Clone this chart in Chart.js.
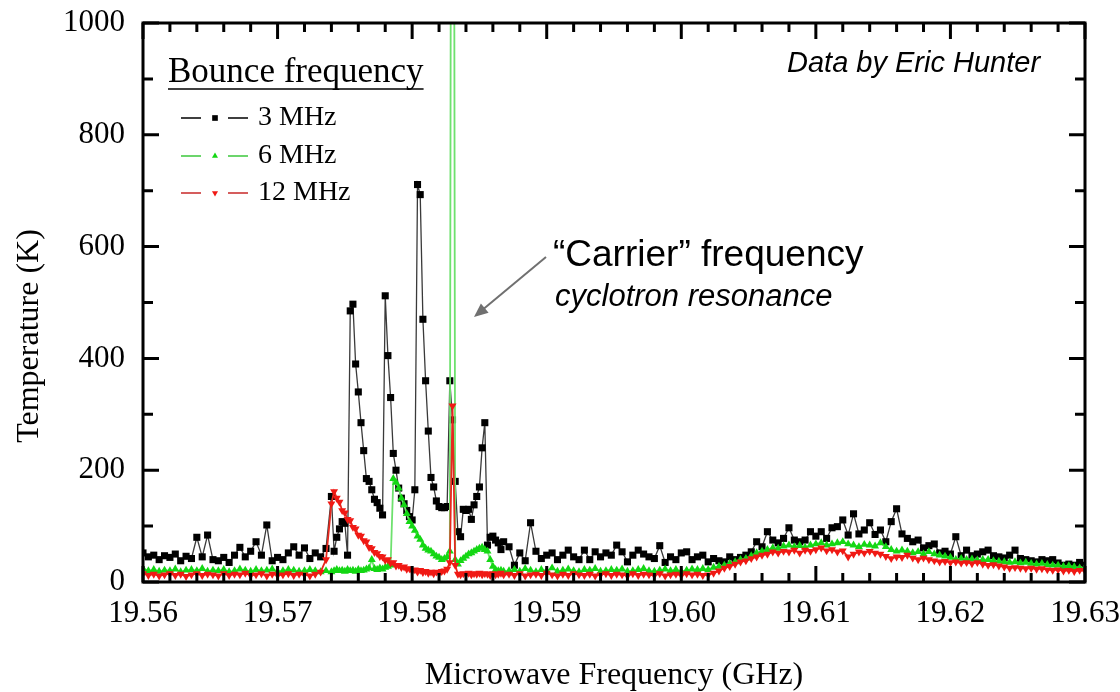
<!DOCTYPE html>
<html>
<head>
<meta charset="utf-8">
<title>Temperature vs microwave frequency</title>
<script src="https://cdn.jsdelivr.net/npm/chart.js@4.4.1/dist/chart.umd.min.js"></script>
<style>
  html, body { margin: 0; padding: 0; background: #fff; }
  #chart { display: block; }
</style>
</head>
<body>
<canvas id="chart" width="1120" height="692"></canvas>
<script>
// Microwave frequency (GHz) of each sample, finer steps across the resonance region
const freq = [
  19.5600, 19.5604, 19.5608, 19.5612, 19.5616, 19.5620, 19.5624, 19.5628, 19.5632, 19.5636,
  19.5640, 19.5644, 19.5648, 19.5652, 19.5656, 19.5660, 19.5664, 19.5668, 19.5672, 19.5676,
  19.5680, 19.5684, 19.5688, 19.5692, 19.5696, 19.5700, 19.5704, 19.5708, 19.5712, 19.5716,
  19.5720, 19.5724, 19.5728, 19.5732, 19.5736,
  19.5740, 19.5742, 19.5744, 19.5746, 19.5748, 19.5750, 19.5752, 19.5754, 19.5756, 19.5758,
  19.5760, 19.5762, 19.5764, 19.5766, 19.5768, 19.5770, 19.5772, 19.5774, 19.5776, 19.5778,
  19.5780, 19.5782, 19.5784, 19.5786, 19.5788, 19.5790, 19.5792, 19.5794, 19.5796, 19.5798,
  19.5800, 19.5802, 19.5804, 19.5806, 19.5808, 19.5810, 19.5812, 19.5814, 19.5816, 19.5818,
  19.5820, 19.5822, 19.5824, 19.5826, 19.5828, 19.5830, 19.5832, 19.5834, 19.5836, 19.5838,
  19.5840, 19.5842, 19.5844, 19.5846, 19.5848, 19.5850, 19.5852, 19.5854, 19.5856, 19.5858,
  19.5860, 19.5862, 19.5864, 19.5866, 19.5868,
  19.5872, 19.5876, 19.5880, 19.5884, 19.5888, 19.5892, 19.5896, 19.5900, 19.5904, 19.5908,
  19.5912, 19.5916, 19.5920, 19.5924, 19.5928, 19.5932, 19.5936, 19.5940, 19.5944, 19.5948,
  19.5952, 19.5956, 19.5960, 19.5964, 19.5968, 19.5972, 19.5976, 19.5980, 19.5984, 19.5988,
  19.5992, 19.5996, 19.6000, 19.6004, 19.6008, 19.6012, 19.6016, 19.6020, 19.6024, 19.6028,
  19.6032, 19.6036, 19.6040, 19.6044, 19.6048, 19.6052, 19.6056, 19.6060, 19.6064, 19.6068,
  19.6072, 19.6076, 19.6080, 19.6084, 19.6088, 19.6092, 19.6096, 19.6100, 19.6104, 19.6108,
  19.6112, 19.6116, 19.6120, 19.6124, 19.6128, 19.6132, 19.6136, 19.6140, 19.6144, 19.6148,
  19.6152, 19.6156, 19.6160, 19.6164, 19.6168, 19.6172, 19.6176, 19.6180, 19.6184, 19.6188,
  19.6192, 19.6196, 19.6200, 19.6204, 19.6208, 19.6212, 19.6216, 19.6220, 19.6224, 19.6228,
  19.6232, 19.6236, 19.6240, 19.6244, 19.6248, 19.6252, 19.6256, 19.6260, 19.6264, 19.6268,
  19.6272, 19.6276, 19.6280, 19.6284, 19.6288, 19.6292, 19.6296, 19.6300
];

// Temperature (K), 3 MHz bounce frequency
const temp3MHz = [
  52, 45, 48, 40, 47, 44, 50, 38, 46, 42,
  80, 45, 84, 40, 38, 44, 35, 48, 62, 45,
  55, 72, 48, 102, 38, 44, 40, 52, 63, 48,
  61, 42, 52, 45, 60,
  153, 55, 80, 95, 108, 105, 48, 485, 497, 390,
  340, 285, 235, 185, 180, 165, 148, 142, 132, 120,
  512, 405, 330, 230, 200, 168, 150, 140, 128, 117,
  111, 165, 711, 693, 470, 360, 270, 187, 170, 145,
  135, 133, 133, 135, 360, 290, 180, 90, 81, 130,
  128, 130, 112, 138, 153, 170, 240, 285, 66, 80,
  82, 75, 70, 58, 72,
  63, 30, 52, 38, 106, 55, 42, 48, 52, 40,
  48, 57, 45, 40, 57, 40, 54, 45, 52, 48,
  66, 54, 36, 48, 57, 50, 45, 42, 65, 35,
  45, 40, 52, 54, 40, 45, 48, 36, 42, 38,
  36, 45, 40, 44, 48, 54, 72, 63, 90, 75,
  70, 78, 97, 75, 72, 75, 90, 82, 90, 78,
  97, 99, 111, 84, 122, 86, 93, 106, 85, 93,
  72, 108, 131, 86, 78, 72, 75, 61, 65, 68,
  52, 55, 50, 81, 47, 57, 47, 50, 54, 57,
  47, 45, 43, 48, 57, 42, 40, 38, 36, 40,
  38, 40, 34, 30, 32, 30, 35, 30
];

// Temperature (K), 6 MHz bounce frequency (carrier spike runs off scale)
const temp6MHz = [
  24, 20, 22, 19, 21, 20, 23, 18, 21, 22,
  20, 24, 19, 21, 20, 22, 18, 20, 23, 21,
  19, 22, 20, 21, 23, 19, 20, 22, 21, 19,
  20, 22, 20, 18, 20,
  18, 20, 22, 20, 21, 19, 22, 20, 21, 19,
  22, 20, 21, 23, 25, 40, 24, 22, 25, 23,
  26, 28, 30, 185, 178, 168, 150, 138, 122, 108,
  100, 92, 82, 76, 66, 60, 57, 55, 50, 46,
  44, 40, 42, 45, 55, 3000, 40, 32, 38, 42,
  46, 50, 52, 55, 58, 60, 62, 58, 55, 40,
  28, 22, 20, 21, 19,
  20, 22, 19, 24, 21, 18, 22, 20, 25, 19,
  21, 23, 20, 18, 22, 21, 24, 19, 20, 22,
  21, 23, 19, 20, 22, 24, 20, 19, 21, 23,
  20, 22, 19, 21, 23, 22, 24, 22, 26, 28,
  30, 33, 36, 40, 42, 47, 52, 55, 58, 61,
  60, 64, 66, 63, 65, 62, 66, 68, 70, 66,
  68, 70, 72, 68, 66, 63, 67, 66, 64, 70,
  63, 58, 55, 57, 55, 52, 54, 50, 54, 50,
  48, 46, 44, 40, 42, 40, 41, 39, 40, 40,
  38, 37, 36, 35, 36, 34, 35, 33, 32, 33,
  31, 30, 30, 28, 29, 27, 25, 26
];

// Temperature (K), 12 MHz bounce frequency
const temp12MHz = [
  15, 12, 14, 11, 13, 15, 12, 14, 10, 13,
  15, 12, 14, 13, 11, 15, 12, 14, 13, 16,
  12, 13, 15, 11, 14, 12, 13, 15, 12, 14,
  13, 11, 14, 18, 40,
  140, 162, 150, 143, 128, 124, 112, 110, 98, 95,
  84, 82, 74, 72, 62, 60, 53, 51, 46, 45,
  39, 40, 34, 35, 29, 30, 26, 27, 23, 24,
  20, 22, 18, 21, 17, 19, 16, 18, 15, 18,
  16, 19, 20, 23, 35, 315, 30, 14, 13, 15,
  14, 16, 13, 15, 14, 16, 13, 15, 14, 12,
  15, 13, 14, 16, 13,
  14, 12, 15, 11, 13, 14, 12, 16, 13, 11,
  14, 12, 15, 13, 12, 14, 11, 13, 15, 12,
  14, 13, 11, 15, 12, 14, 13, 12, 15, 11,
  13, 14, 12, 15, 13, 14, 12, 13, 16, 20,
  25, 28, 32, 36, 38, 42, 45, 48, 50, 54,
  52, 55, 54, 57, 52, 57, 55, 58, 61, 56,
  58, 54, 56, 45, 50, 54, 52, 55, 52, 50,
  46, 42, 45, 44, 48, 43, 40, 43, 40, 38,
  36, 37, 35, 36, 34, 35, 33, 35, 32, 30,
  31, 29, 27, 25, 26, 25, 24, 25, 23, 24,
  22, 21, 22, 20, 21, 19, 21, 20
];

const xTicks = [19.56, 19.57, 19.58, 19.59, 19.60, 19.61, 19.62, 19.63];
const yTicks = [0, 200, 400, 600, 800, 1000];

const serif = '"Liberation Serif", "Times New Roman", serif';
const sans = '"Liberation Sans", Arial, sans-serif';

function toPoints(values) {
  return freq.map((f, i) => ({ x: f, y: values[i] }));
}

// Box frame with inward ticks on all four sides (Origin style)
const framePlugin = {
  id: 'frame',
  afterDatasetsDraw(chart) {
    const { ctx, chartArea: a, scales: { x, y } } = chart;
    ctx.save();
    ctx.strokeStyle = '#000';
    ctx.lineWidth = 3;
    ctx.beginPath();
    for (let i = 0; i <= 35; i++) {
      const px = x.getPixelForValue(19.56 + i * 0.002);
      const len = i % 5 === 0 ? 16 : 9;
      ctx.moveTo(px, a.bottom); ctx.lineTo(px, a.bottom - len);
      ctx.moveTo(px, a.top); ctx.lineTo(px, a.top + len);
    }
    for (let i = 0; i <= 10; i++) {
      const py = y.getPixelForValue(i * 100);
      const len = i % 2 === 0 ? 16 : 10;
      ctx.moveTo(a.left, py); ctx.lineTo(a.left + len, py);
      ctx.moveTo(a.right, py); ctx.lineTo(a.right - len, py);
    }
    ctx.stroke();
    ctx.strokeRect(a.left, a.top, a.right - a.left, a.bottom - a.top);
    ctx.restore();
  }
};

// Axis title on the left, legend box and text notes
const notesPlugin = {
  id: 'notes',
  afterDraw(chart) {
    const ctx = chart.ctx;
    ctx.save();
    ctx.fillStyle = '#000';
    ctx.textBaseline = 'middle';

    // y axis title, rotated
    ctx.save();
    ctx.translate(30, 336);
    ctx.rotate(-Math.PI / 2);
    ctx.textAlign = 'center';
    ctx.font = '32px ' + serif;
    ctx.fillText('Temperature (K)', 0, 0);
    ctx.restore();

    // legend title, underlined
    ctx.font = '35px ' + serif;
    ctx.fillText('Bounce frequency', 168, 73);
    const w = ctx.measureText('Bounce frequency').width;
    ctx.strokeStyle = '#000';
    ctx.lineWidth = 1.5;
    ctx.beginPath();
    ctx.moveTo(168, 89); ctx.lineTo(168 + w, 89);
    ctx.stroke();

    // legend entries: line - marker - line
    const rows = [118, 156, 193];
    ctx.font = '28px ' + serif;
    chart.data.datasets.forEach((ds, i) => {
      const yy = rows[i];
      ctx.strokeStyle = ds.legendLine;
      ctx.lineWidth = 1.5;
      ctx.beginPath();
      ctx.moveTo(181, yy); ctx.lineTo(201, yy);
      ctx.moveTo(228, yy); ctx.lineTo(248, yy);
      ctx.stroke();
      ctx.fillStyle = ds.pointBackgroundColor;
      Chart.helpers.drawPoint(ctx, {
        pointStyle: ds.pointStyle, radius: ds.pointStyle === 'rect' ? 4 : 3.5,
        rotation: ds.pointRotation || 0, borderWidth: 0
      }, 215, yy);
      ctx.fillStyle = '#000';
      ctx.fillText(ds.label, 258, yy);
    });

    // credit
    ctx.font = 'italic 29px ' + sans;
    ctx.fillText('Data by Eric Hunter', 787, 64);

    // carrier annotation
    ctx.font = '37px ' + sans;
    ctx.fillText('\u201CCarrier\u201D frequency', 553, 256);
    ctx.font = 'italic 31px ' + sans;
    ctx.fillText('cyclotron resonance', 555, 297);

    // arrow
    const x0 = 546, y0 = 257, x1 = 474, y1 = 317;
    const ang = Math.atan2(y1 - y0, x1 - x0);
    ctx.strokeStyle = '#707070';
    ctx.fillStyle = '#707070';
    ctx.lineWidth = 2;
    ctx.beginPath();
    ctx.moveTo(x0, y0);
    ctx.lineTo(x1 - 10 * Math.cos(ang), y1 - 10 * Math.sin(ang));
    ctx.stroke();
    ctx.beginPath();
    ctx.moveTo(x1, y1);
    ctx.lineTo(x1 - 14 * Math.cos(ang) + 6 * Math.sin(ang), y1 - 14 * Math.sin(ang) - 6 * Math.cos(ang));
    ctx.lineTo(x1 - 14 * Math.cos(ang) - 6 * Math.sin(ang), y1 - 14 * Math.sin(ang) + 6 * Math.cos(ang));
    ctx.closePath();
    ctx.fill();
    ctx.restore();
  }
};

const ctx = document.getElementById('chart');

new Chart(ctx, {
  type: 'line',
  data: {
    datasets: [
      {
        label: '3 MHz',
        data: toPoints(temp3MHz),
        borderColor: '#3a3a3a',
        borderWidth: 1.3,
        pointStyle: 'rect',
        pointRadius: 5,
        pointBackgroundColor: '#000',
        pointBorderWidth: 0,
        legendLine: '#000',
        order: 3
      },
      {
        label: '6 MHz',
        data: toPoints(temp6MHz),
        borderColor: 'rgb(110,225,110)',
        borderWidth: 1.8,
        pointStyle: 'triangle',
        pointRadius: 4.6,
        pointBackgroundColor: 'rgb(20,215,20)',
        pointBorderWidth: 0,
        legendLine: 'rgb(60,200,60)',
        order: 2
      },
      {
        label: '12 MHz',
        data: toPoints(temp12MHz),
        borderColor: 'rgb(230,40,30)',
        borderWidth: 1.8,
        pointStyle: 'triangle',
        pointRotation: 180,
        pointRadius: 4.6,
        pointBackgroundColor: 'rgb(240,25,20)',
        pointBorderWidth: 0,
        legendLine: 'rgb(200,40,40)',
        order: 1
      }
    ]
  },
  options: {
    responsive: false,
    animation: false,
    devicePixelRatio: 1,
    layout: { padding: { left: 0, right: 35, top: 23, bottom: 0 } },
    plugins: {
      legend: { display: false },
      tooltip: { enabled: false }
    },
    scales: {
      x: {
        type: 'linear',
        min: 19.56,
        max: 19.63,
        afterBuildTicks: s => { s.ticks = xTicks.map(v => ({ value: v })); },
        ticks: {
          callback: v => v.toFixed(2),
          font: { family: serif, size: 31 },
          color: '#000',
          padding: 13,
          maxRotation: 0,
          autoSkip: false
        },
        grid: { display: false, drawTicks: false },
        border: { display: false },
        title: {
          display: true,
          text: 'Microwave Frequency (GHz)',
          font: { family: serif, size: 32, lineHeight: 1 },
          color: '#000',
          padding: { top: 0, bottom: 0 }
        },
        afterFit: s => { s.height = 110; s.paddingLeft = 0; s.paddingRight = 0; }
      },
      y: {
        min: 0,
        max: 1000,
        afterBuildTicks: s => { s.ticks = yTicks.map(v => ({ value: v })); },
        ticks: {
          callback: v => String(v),
          font: { family: serif, size: 31 },
          color: '#000',
          padding: 18
        },
        grid: { display: false, drawTicks: false },
        border: { display: false },
        title: { display: false },
        afterFit: s => { s.width = 143; s.paddingTop = 0; s.paddingBottom = 0; }
      }
    }
  },
  plugins: [framePlugin, notesPlugin]
});
</script>
</body>
</html>
